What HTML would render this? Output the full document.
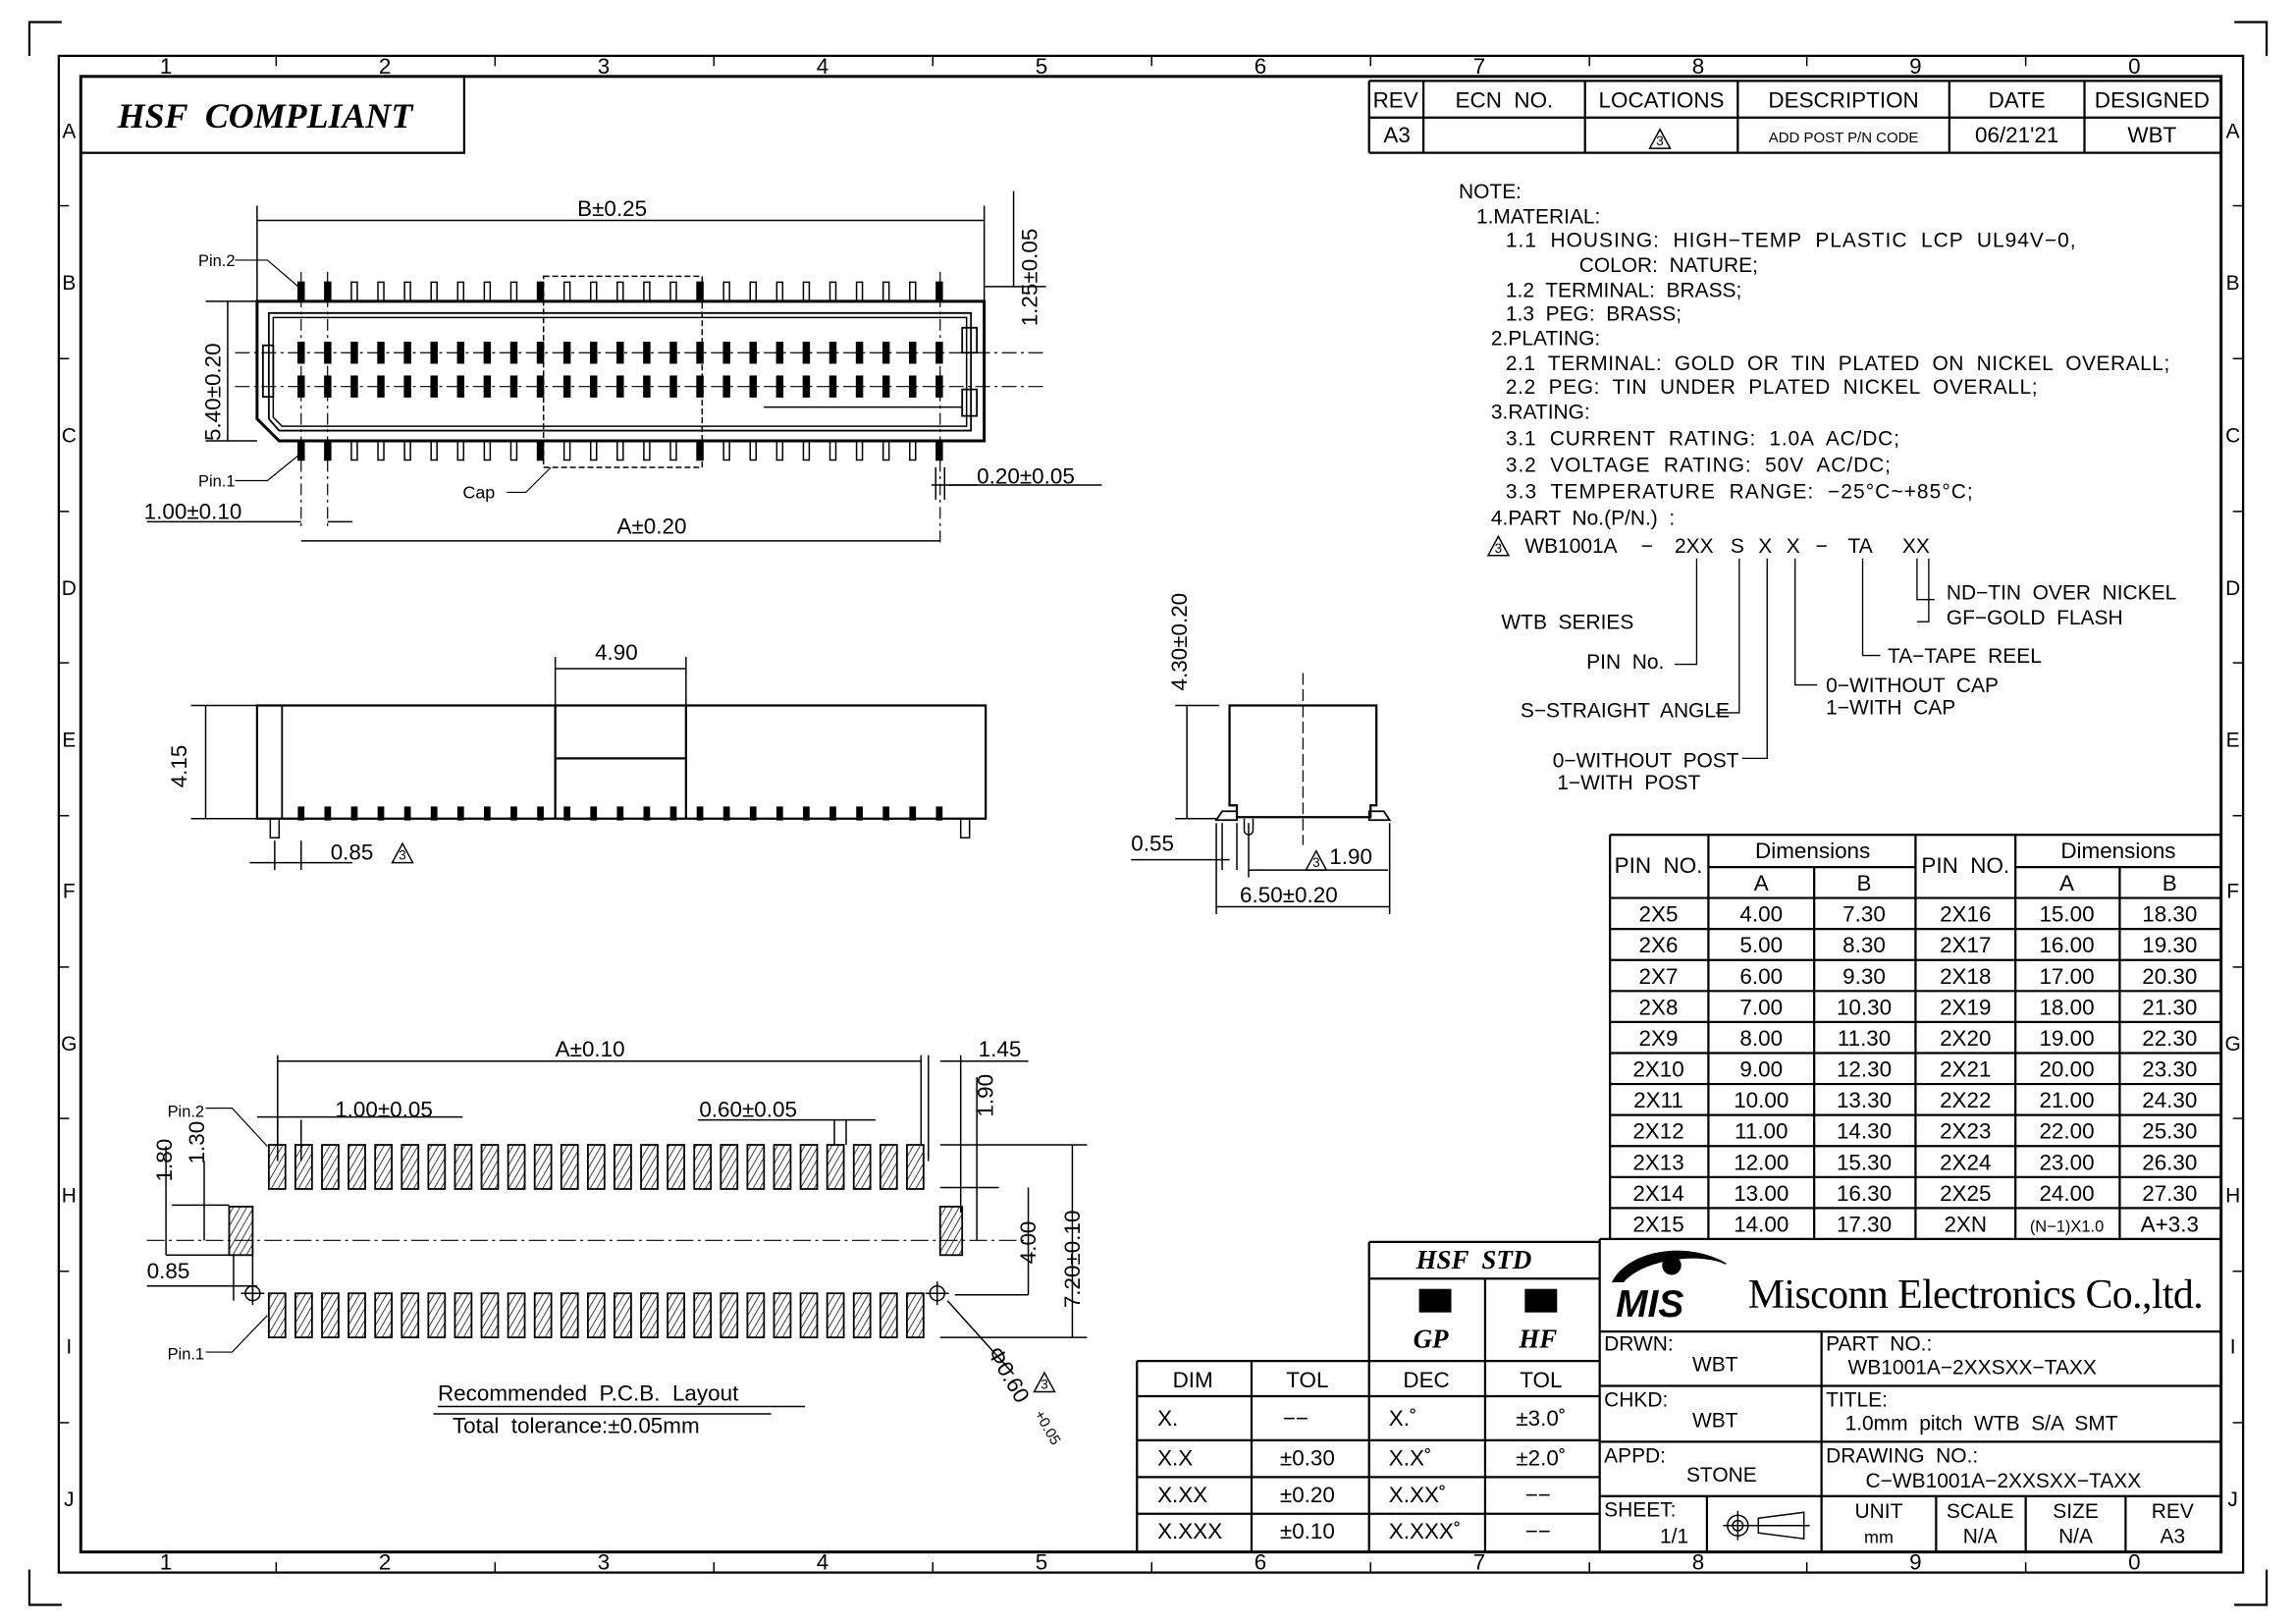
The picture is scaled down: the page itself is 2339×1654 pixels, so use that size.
<!DOCTYPE html>
<html><head><meta charset="utf-8"><style>
html,body{margin:0;padding:0;background:#fff}
svg{display:block}
text{font-family:"Liberation Sans",sans-serif;fill:#000;white-space:pre}
.s{font-family:"Liberation Serif",serif;font-style:italic;font-weight:bold}
.m{font-family:"Liberation Serif",serif}
</style></head><body>
<svg id="d" width="2339" height="1654" viewBox="0 0 1563 1105" preserveAspectRatio="none" xmlns="http://www.w3.org/2000/svg" xml:space="preserve">
<defs>
<pattern id="h" width="4" height="4" patternUnits="userSpaceOnUse" patternTransform="rotate(30)"><line x1="0" y1="0" x2="0" y2="4" stroke="#000" stroke-width="1"/></pattern>
</defs>
<g fill="none" stroke="#000" stroke-width="1.2">
<path d="M20,38 V15 H42 M1543,38 V15 H1521 M20,1068 V1092 H42 M1543,1068 V1092 H1521" stroke-width="1.5"/>
<rect x="40" y="38" width="1487" height="1032" stroke-width="1.5"/>
<rect x="55" y="52" width="1457" height="1004" stroke-width="2"/>
<rect x="55" y="52" width="261" height="52" stroke-width="1.5"/>
<path d="M932,55 H1512 M932,80 H1512 M932,104 H1512 M932,55 V104 M969,55 V104 M1079,55 V104 M1183,55 V104 M1327,55 V104 M1419,55 V104" stroke-width="1.5"/>
<path d="M1096,568 H1512 M1163,590 H1304 M1372,590 H1512 M1096,611 H1512 M1096,568 V843 M1163,568 V843 M1235,590 V843 M1304,568 V843 M1372,568 V843 M1443,590 V843" stroke-width="1.5"/>
<path d="M1089,843 H1512 M1089,843 V1056 M1089,906 H1512 M1089,943 H1512 M1089,981 H1512 M1089,1018 H1512 M1240,906 V1056 M1162,1018 V1056 M1318,1018 V1056 M1379,1018 V1056 M1447,1018 V1056" stroke-width="1.5"/>
<path d="M932,845 H1089 M932,845 V1056 M932,870 H1089 M1011,870 V1056 M932,926 H1089 M774,926 H932 M774,926 V1056 M852,926 V1056 M774,950 H1089 M774,980 H1089 M774,1005 H1089 M774,1030 H1089" stroke-width="1.5"/>
</g>
<g id="g1" fill="none" stroke="#000" stroke-width="1"></g>
<g font-size="14" id="tx">
<text x="80" y="87" class="s" font-size="24">HSF  COMPLIANT</text>
<g font-size="15" text-anchor="middle">
<text x="950" y="73">REV</text><text x="1024" y="73">ECN  NO.</text><text x="1131" y="73">LOCATIONS</text><text x="1255" y="73">DESCRIPTION</text><text x="1373" y="73">DATE</text><text x="1465" y="73">DESIGNED</text>
<text x="951" y="97">A3</text><text x="1255" y="97" font-size="10">ADD POST P/N CODE</text><text x="1373" y="97">06/21'21</text><text x="1465" y="97">WBT</text>
</g>
<g font-size="14">
<text x="993" y="135">NOTE:</text>
<text x="1005" y="152">1.MATERIAL:</text>
<text x="1025" y="168" textLength="388">1.1  HOUSING:  HIGH−TEMP  PLASTIC  LCP  UL94V−0,</text>
<text x="1075" y="185">COLOR:  NATURE;</text>
<text x="1025" y="202">1.2  TERMINAL:  BRASS;</text>
<text x="1025" y="218">1.3  PEG:  BRASS;</text>
<text x="1015" y="235">2.PLATING:</text>
<text x="1025" y="252" textLength="452">2.1  TERMINAL:  GOLD  OR  TIN  PLATED  ON  NICKEL  OVERALL;</text>
<text x="1025" y="268" textLength="362">2.2  PEG:  TIN  UNDER  PLATED  NICKEL  OVERALL;</text>
<text x="1015" y="285">3.RATING:</text>
<text x="1025" y="303" textLength="268">3.1  CURRENT  RATING:  1.0A  AC/DC;</text>
<text x="1025" y="321" textLength="262">3.2  VOLTAGE  RATING:  50V  AC/DC;</text>
<text x="1025" y="339" textLength="318">3.3  TEMPERATURE  RANGE:  −25°C~+85°C;</text>
<text x="1015" y="357">4.PART  No.(P/N.)  :</text>
<text x="1038" y="376">WB1001A</text><text x="1117" y="376">−</text><text x="1140" y="376">2XX</text><text x="1178" y="376">S</text><text x="1197" y="376">X</text><text x="1216" y="376">X</text><text x="1236" y="376">−</text><text x="1258" y="376">TA</text><text x="1295" y="376">XX</text>
<text x="1325" y="408">ND−TIN  OVER  NICKEL</text>
<text x="1325" y="425">GF−GOLD  FLASH</text>
<text x="1022" y="428">WTB  SERIES</text>
<text x="1080" y="455">PIN  No.</text>
<text x="1285" y="451">TA−TAPE  REEL</text>
<text x="1243" y="471">0−WITHOUT  CAP</text>
<text x="1243" y="486">1−WITH  CAP</text>
<text x="1035" y="488">S−STRAIGHT  ANGLE</text>
<text x="1057" y="522">0−WITHOUT  POST</text>
<text x="1060" y="537">1−WITH  POST</text>
</g>
<g font-size="15" text-anchor="middle">
<text x="1129" y="594">PIN  NO.</text><text x="1338" y="594">PIN  NO.</text>
<text x="1234" y="584">Dimensions</text><text x="1442" y="584">Dimensions</text>
<text x="1199" y="606">A</text><text x="1269" y="606">B</text><text x="1407" y="606">A</text><text x="1477" y="606">B</text>
</g>
<text x="1190" y="890" class="m" font-size="28" textLength="310">Misconn Electronics Co.,ltd.</text>
<text x="1100" y="896" font-size="26" font-weight="bold" font-style="italic">MIS</text>
<g font-size="14">
<text x="1092" y="919">DRWN:</text><text x="1152" y="933">WBT</text>
<text x="1092" y="957">CHKD:</text><text x="1152" y="971">WBT</text>
<text x="1092" y="995">APPD:</text><text x="1148" y="1008">STONE</text>
<text x="1092" y="1032">SHEET:</text><text x="1130" y="1050">1/1</text>
<text x="1243" y="919">PART  NO.:</text><text x="1258" y="935">WB1001A−2XXSXX−TAXX</text>
<text x="1243" y="957">TITLE:</text><text x="1256" y="973">1.0mm  pitch  WTB  S/A  SMT</text>
<text x="1243" y="995">DRAWING  NO.:</text><text x="1270" y="1012">C−WB1001A−2XXSXX−TAXX</text>
<g text-anchor="middle"><text x="1279" y="1033">UNIT</text><text x="1279" y="1050" font-size="12">mm</text>
<text x="1348" y="1033">SCALE</text><text x="1348" y="1050">N/A</text>
<text x="1413" y="1033">SIZE</text><text x="1413" y="1050">N/A</text>
<text x="1479" y="1033">REV</text><text x="1479" y="1050">A3</text></g>
</g>
<text x="964" y="863" class="s" font-size="18">HSF  STD</text>
<rect x="966" y="877" width="22" height="16" fill="#000"/><rect x="1038" y="877" width="22" height="16" fill="#000"/>
<text x="962" y="917" class="s" font-size="18">GP</text><text x="1034" y="917" class="s" font-size="18">HF</text>
<g font-size="15" text-anchor="middle">
<text x="812" y="944">DIM</text><text x="890" y="944">TOL</text><text x="971" y="944">DEC</text><text x="1049" y="944">TOL</text>
<text x="795" y="970">X.</text><text x="882" y="970">−−</text><text x="955" y="970">X.˚</text><text x="1049" y="970">±3.0˚</text>
<text x="800" y="997">X.X</text><text x="890" y="997">±0.30</text><text x="960" y="997">X.X˚</text><text x="1049" y="997">±2.0˚</text>
<text x="805" y="1022">X.XX</text><text x="890" y="1022">±0.20</text><text x="965" y="1022">X.XX˚</text><text x="1047" y="1022">−−</text>
<text x="810" y="1047">X.XXX</text><text x="890" y="1047">±0.10</text><text x="970" y="1047">X.XXX˚</text><text x="1047" y="1047">−−</text>
</g>
<text x="393" y="147" font-size="15">B±0.25</text>
<text x="420" y="363" font-size="15">A±0.20</text>
<text x="98" y="353" font-size="15">1.00±0.10</text>
<text x="665" y="329" font-size="15">0.20±0.05</text>
<text x="135" y="181" font-size="11">Pin.2</text>
<text x="135" y="331" font-size="11">Pin.1</text>
<text x="315" y="339" font-size="12">Cap</text>
<text transform="translate(150,300) rotate(-90)" font-size="15">5.40±0.20</text>
<text transform="translate(706,222) rotate(-90)" font-size="15">1.25±0.05</text>
<text x="405" y="449" font-size="15">4.90</text>
<text transform="translate(127,536) rotate(-90)" font-size="15">4.15</text>
<text x="225" y="585" font-size="15">0.85</text>
<text transform="translate(808,470) rotate(-90)" font-size="15">4.30±0.20</text>
<text x="770" y="579" font-size="15">0.55</text>
<text x="905" y="588" font-size="15">1.90</text>
<text x="844" y="614" font-size="15">6.50±0.20</text>
<text x="378" y="719" font-size="15">A±0.10</text>
<text x="666" y="719" font-size="15">1.45</text>
<text x="228" y="760" font-size="15">1.00±0.05</text>
<text x="476" y="760" font-size="15">0.60±0.05</text>
<text transform="translate(676,760) rotate(-90)" font-size="15">1.90</text>
<text transform="translate(117,804) rotate(-90)" font-size="15">1.80</text>
<text transform="translate(139,792) rotate(-90)" font-size="15">1.30</text>
<text x="100" y="870" font-size="15">0.85</text>
<text transform="translate(705,860) rotate(-90)" font-size="15">4.00</text>
<text transform="translate(735,890) rotate(-90)" font-size="15">7.20±0.10</text>
<text transform="translate(672,920) rotate(60)" font-size="15">Φ0.60</text><text transform="translate(704,962) rotate(60)" font-size="10">+0.05</text>
<text x="114" y="760" font-size="11">Pin.2</text>
<text x="114" y="925" font-size="11">Pin.1</text>
<text x="298" y="953" font-size="15">Recommended  P.C.B.  Layout</text>
<text x="308" y="975" font-size="15">Total  tolerance:±0.05mm</text>
</g>
</svg>
<script>
var NS="http://www.w3.org/2000/svg",g=document.getElementById('g1'),tx=document.getElementById('tx');
function el(t,a,p){var e=document.createElementNS(NS,t);for(var k in a)e.setAttribute(k,a[k]);(p||g).appendChild(e);return e}
function L(x1,y1,x2,y2,w,da){var a={x1:x1,y1:y1,x2:x2,y2:y2};if(w)a['stroke-width']=w;if(da)a['stroke-dasharray']=da;el('line',a)}
function T(x,y,s,fs,anc){var e=el('text',{x:x,y:y,'font-size':fs||15,'text-anchor':anc||'start'},tx);e.textContent=s}
function P(d,w,f){el('path',{d:d,'stroke-width':w||1,fill:f||'none'})}
function tri(x,y){P('M'+x+','+(y+2)+' l7,-13 l7,13 z',1);T(x+7,y,'3',9,'middle')}
var nx=[113,262,411,560,709,858,1007,1156,1304,1453],nl=['1','2','3','4','5','6','7','8','9','0'];
for(var i=0;i<10;i++){T(nx[i],50,nl[i],15,'middle');T(nx[i],1068,nl[i],15,'middle')}
[188,337,486,635,784,933,1082,1230,1379].forEach(function(x){L(x,38,x,45);L(x,1063,x,1070)});
var ly=[89,192,296,400,503,606,710,813,916,1020],lt='ABCDEFGHIJ';
for(i=0;i<10;i++){T(47,ly[i]+5,lt[i],14,'middle');T(1520,ly[i]+5,lt[i],14,'middle')}
[140,244,348,451,555,658,761,865,968].forEach(function(y){L(40,y,47,y);L(1520,y,1527,y)});
var r=[['2X5','4.00','7.30','2X16','15.00','18.30'],['2X6','5.00','8.30','2X17','16.00','19.30'],['2X7','6.00','9.30','2X18','17.00','20.30'],['2X8','7.00','10.30','2X19','18.00','21.30'],['2X9','8.00','11.30','2X20','19.00','22.30'],['2X10','9.00','12.30','2X21','20.00','23.30'],['2X11','10.00','13.30','2X22','21.00','24.30'],['2X12','11.00','14.30','2X23','22.00','25.30'],['2X13','12.00','15.30','2X24','23.00','26.30'],['2X14','13.00','16.30','2X25','24.00','27.30'],['2X15','14.00','17.30','2XN','(N−1)X1.0','A+3.3']];
var cx=[1129,1199,1269,1338,1407,1477];
for(i=0;i<11;i++){var y=611+21.1*(i+1);if(i<10)L(1096,y,1512,y,1.5);for(var j=0;j<6;j++)T(cx[j],y-5,r[i][j],(i==10&&j==4)?11:15,'middle')}
P('M175,205 H670 V300 H190 L175,285 Z',2);
P('M183,213 H661 V293 H190 L183,285 Z',1.2);
P('M186,216 H658 V290 H192 L186,284 Z',1);
P('M179,235 H186 V270 H179 Z M655,223 H665 V240 H655 Z M655,265 H665 V283 H655 Z',1.2);
L(520,277,655,277,1);
L(160,240,712,240,0.8,'10,3,2,3');L(160,263,712,263,0.8,'10,3,2,3');
for(i=0;i<25;i++){var x=205+18.1*i,thick=(i<2||i==24||i==9||i==15);
 el('rect',{x:x-2,y:192,width:4,height:13,'stroke-width':1,fill:thick?'#000':'none'});
 el('rect',{x:x-2,y:300,width:4,height:13,'stroke-width':1,fill:thick?'#000':'none'});
 el('rect',{x:x-2,y:233,width:4,height:14,'stroke-width':1,fill:'#000'});
 el('rect',{x:x-2,y:256,width:4,height:14,'stroke-width':1,fill:'#000'});}
el('rect',{x:370,y:188,width:108,height:130,'stroke-dasharray':'4,2'});
L(205,185,205,360,0.8,'8,3,2,3');L(223,185,223,360,0.8,'8,3,2,3');L(640,185,640,370,0.8,'8,3,2,3');
L(175,140,175,205);L(670,140,670,205);L(175,150,670,150);
L(140,205,175,205);L(140,300,175,300);L(155,205,155,300);
L(670,195,712,195);L(690,130,690,195);
L(205,368,640,368);L(100,355,205,355);L(223,355,240,355);
L(634,330,665,330);L(646,330,750,330);L(637,318,637,340);L(643,318,643,340);
P('M160,177 H182 L203,195',0.8);P('M160,327 H182 L203,310',0.8);P('M345,335 H358 L375,318',0.8);
P('M175,480 H671 V557 H175 Z',1.5);L(192,480,192,557,1.2);
P('M378,480 V557 M467,480 V557 M378,516 H467',1.5);
L(378,447,378,480);L(467,447,467,480);L(378,455,467,455);
for(i=0;i<25;i++){var x=205+18.1*i;el('rect',{x:x-2,y:549,width:4,height:9,fill:'#000','stroke-width':0.5})}
P('M184,557 V570 h6 V557 M654,557 V570 h6 V557',1);
L(130,480,175,480);L(130,557,175,557);L(140,480,140,557);
L(187,572,187,592);L(205,572,205,592);L(170,587,240,587);
tri(267,585);
P('M837,480 H937 V548 H933 V556 H842 V548 H837 Z',1.5);
P('M828,558 l4,-6 h10 v6 z M946,558 l-4,-6 h-10 v6 z',1.2);
L(887,458,887,575,0.8,'8,3');
P('M847,557 v8 a3,3 0 0 0 6,0 v-8',1);
L(800,480,830,480);L(800,557,828,557);L(808,480,808,557);
L(770,585,837,585);L(832,560,832,592);L(842,560,842,592);L(850,560,850,597);
L(850,592,945,592);tri(889,590);
L(828,560,828,622);L(946,560,946,622);L(828,617,946,617);
for(i=0;i<25;i++){var x=183+18.1*i;
 el('rect',{x:x,y:779,width:11.3,height:30,fill:'url(#h)','stroke-width':1.2});
 el('rect',{x:x,y:880,width:11.3,height:30,fill:'url(#h)','stroke-width':1.2});}
el('rect',{x:156,y:821,width:16,height:33,fill:'url(#h)','stroke-width':1.2});
el('rect',{x:640,y:821,width:15,height:33,fill:'url(#h)','stroke-width':1.2});
L(100,844,700,844,0.7,'12,3,2,3');
el('circle',{cx:172,cy:880,r:5});L(164,880,180,880);L(172,872,172,888);
el('circle',{cx:638,cy:880,r:5});L(630,880,646,880);L(638,872,638,888);
L(189,718,189,779);L(627,718,627,779);L(632,718,632,790);L(189,722,627,722);L(640,722,700,722);L(654,718,654,825);
L(189,762,189,790);L(205,762,205,790);L(175,760,315,760);
L(568,762,568,779);L(576,762,576,779);L(475,762,596,762);
L(640,779,740,779);L(640,808,680,808);L(665,733,665,844);L(730,779,730,910);L(640,910,740,910);
L(650,881,700,881);L(700,808,700,881);
L(117,820,156,820);L(113,780,113,854);L(139,790,139,844);L(113,854,156,854);
L(100,875,175,875);L(159,854,159,885);L(172,854,172,885);
L(645,885,690,935);
P('M140,754 H158 L182,780',0.8);P('M140,920 H158 L182,895',0.8);
L(298,957,548,957);L(295,962,525,962);
tri(704,945);
tri(1013,376);tri(1123,99);
P('M1305,380 V408 h12 M1313,380 V423 h-8',0.9);
P('M1268,380 V446 h12',0.9);P('M1222,380 V466 h15',0.9);
P('M1203,380 V516 h-17',0.9);P('M1184,380 V485 h-16',0.9);
P('M1155,380 V452 h-15',0.9);
P('M1098,872 C1110,850 1150,845 1175,860 C1160,852 1120,855 1105,872 Z',1,'#000');
el('circle',{cx:1138,cy:861,r:6,fill:'#000'});
el('circle',{cx:1183,cy:1038,r:7});el('circle',{cx:1183,cy:1038,r:3.5});L(1173,1038,1193,1038);L(1183,1028,1183,1048);
P('M1197,1033 L1228,1029 V1047 L1197,1043 Z M1193,1038 H1232',1);
</script>
</body></html>
